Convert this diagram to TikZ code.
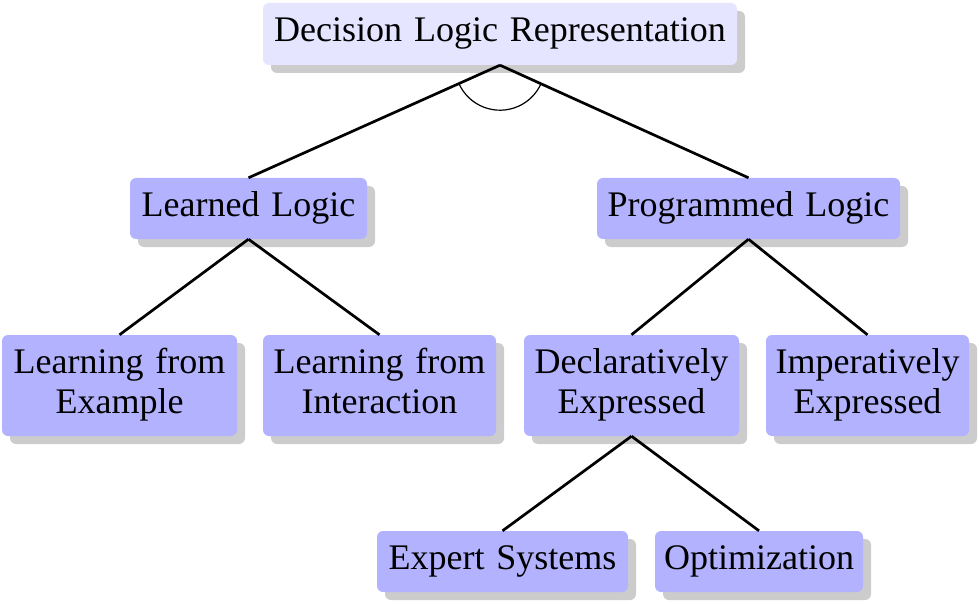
\documentclass[tikz,border=0pt]{standalone}
\usepackage{fontspec}
\setmainfont{Liberation Serif}
\usetikzlibrary{shadows,calc}
\newcommand\mybox[1]{\fontsize{36}{40}\selectfont\spaceskip=0.33em plus 0.1em minus 0.05em\relax\strut #1}
\begin{document}
\begin{tikzpicture}[x=1pt,y=1pt,
  box/.style={draw=none, rounded corners=6pt, fill=blue!30, align=center,
    font=\fontsize{36}{40}\selectfont, inner sep=0pt,
    drop shadow={shadow xshift=8pt, shadow yshift=-8pt, fill=black!20, opacity=1}},
  rootbox/.style={box, fill=blue!10},
  edge/.style={line width=2.7pt},
  andarc/.style={line width=1.2pt}]
\useasboundingbox (0,0) rectangle (979,-604);
\node[rootbox, minimum width=474pt, minimum height=62pt] (top) at (500,-34) {\mybox{Decision Logic Representation}};
\node[box, minimum width=237pt, minimum height=61pt] (LL) at (248.5,-208.5) {\mybox{Learned Logic}};
\node[box, minimum width=303pt, minimum height=61pt] (PL) at (748.5,-208.5) {\mybox{Programmed Logic}};
\node[box, minimum width=235pt, minimum height=101pt] (LE) at (119.5,-385.5) {\mybox{Learning from}\\\mybox{Example}};
\node[box, minimum width=233pt, minimum height=101pt] (LI) at (379.5,-385.5) {\mybox{Learning from}\\\mybox{Interaction}};
\node[box, minimum width=215pt, minimum height=101pt] (DE) at (631.5,-385.5) {\mybox{Declaratively}\\\mybox{Expressed}};
\node[box, minimum width=203pt, minimum height=101pt] (IE) at (867.5,-385.5) {\mybox{Imperatively}\\\mybox{Expressed}};
\node[box, minimum width=251pt, minimum height=61pt] (ES) at (502.5,-561.5) {\mybox{Expert Systems}};
\node[box, minimum width=208pt, minimum height=61pt] (OP) at (759,-561.5) {\mybox{Optimization}};
\draw[edge] (top.south) -- (LL.north);
\draw[edge] (top.south) -- (PL.north);
\draw[edge] (LL.south) -- (LE.north);
\draw[edge] (LL.south) -- (LI.north);
\draw[edge] (PL.south) -- (DE.north);
\draw[edge] (PL.south) -- (IE.north);
\draw[edge] (DE.south) -- (ES.north);
\draw[edge] (DE.south) -- (OP.north);
\draw[andarc] let \p1=($(LL.north)-(top.south)$), \p2=($(PL.north)-(top.south)$),
  \n1={atan2(\y1,\x1)}, \n2={atan2(\y2,\x2)} in
  ($(top.south)!45pt!(LL.north)$) arc[start angle=\n1, end angle=\n2, radius=45pt];
\end{tikzpicture}
\end{document}
